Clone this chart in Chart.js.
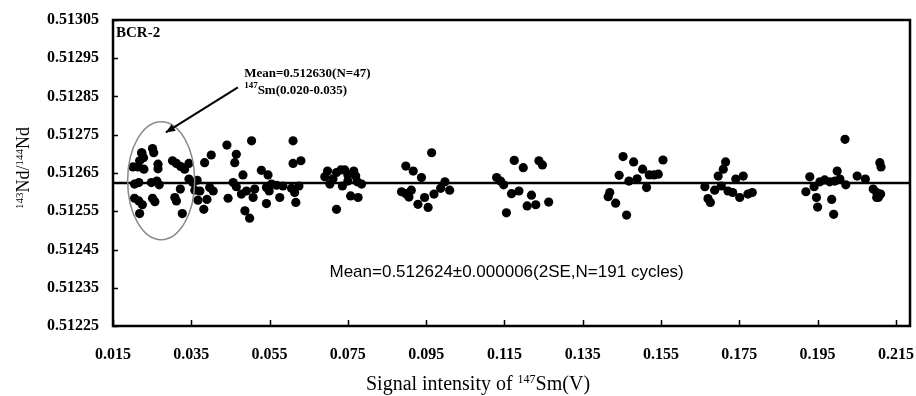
<!DOCTYPE html>
<html>
<head>
<meta charset="utf-8">
<script src="https://cdn.jsdelivr.net/npm/chart.js@4.4.1/dist/chart.umd.min.js"></script>
<style>
html,body{margin:0;padding:0;background:#fff;}
canvas{display:block;}
</style>
</head>
<body>
<canvas id="c" width="916" height="396"></canvas>
<script>
// ---- Data ----
const sampleName = "BCR-2";
const meanValue = 0.512624;
const xTicks = [0.015,0.035,0.055,0.075,0.095,0.115,0.135,0.155,0.175,0.195,0.215];
const xTickLabels = ["0.015","0.035","0.055","0.075","0.095","0.115","0.135","0.155","0.175","0.195","0.215"];
const yTicks = [0.51225,0.51235,0.51245,0.51255,0.51265,0.51275,0.51285,0.51295,0.51305];
const yTickLabels = ["0.51225","0.51235","0.51245","0.51255","0.51265","0.51275","0.51285","0.51295","0.51305"];

const smSignal = [
0.0223,0.0224,0.0228,0.0251,0.0254,0.0218,0.0201,0.0214,0.0229,0.0265,0.0265,0.0302,0.0312,0.0323,0.0333,0.0344,
0.0205,0.0216,0.0248,0.0262,0.0268,0.0205,0.0216,0.0225,0.0251,0.0257,0.0218,0.0308,0.0312,0.0322,0.0327,
0.0344,0.0354,0.0365,0.0359,0.0372,0.0367,0.0382,0.0390,0.0397,0.0406,0.0384,0.0401,0.0441,0.0465,0.0461,0.0444,0.0457,
0.0504,0.0482,0.0465,0.0478,0.0491,0.0512,0.0508,0.0487,0.0499,0.0529,0.0546,0.0542,0.0549,0.0555,0.0568,0.0542,0.0576,0.0584,
0.0610,0.0610,0.0630,0.0606,0.0614,0.0625,0.0617,
0.0698,0.0691,0.0704,0.0712,0.0721,0.0732,0.0742,0.0750,0.0750,0.0765,0.0770,0.0774,0.0785,0.0736,0.0757,0.0776,0.0721,
0.0898,0.0917,0.0938,0.0964,0.0887,0.0898,0.0912,0.0906,0.0929,0.0946,0.0955,0.0970,0.0987,0.0998,0.1010,
0.1130,0.1140,0.1148,0.1175,0.1198,0.1168,0.1187,0.1155,0.1238,0.1247,0.1219,0.1208,0.1230,0.1263,
0.1453,0.1480,0.1503,0.1443,0.1468,0.1489,0.1520,0.1532,0.1543,0.1555,0.1513,0.1419,0.1415,0.1434,0.1462,
0.1662,0.1670,0.1676,0.1687,0.1696,0.1704,0.1709,0.1715,0.1721,0.1741,0.1760,0.1733,0.1751,0.1772,0.1783,
0.1930,0.1920,0.1941,0.1947,0.1950,0.1956,0.1968,0.1981,0.1994,0.2000,0.2007,0.1986,0.1991,0.2020,0.2022,0.2051,0.2072,
0.2109,0.2112,0.2092,0.2101,0.2105,0.2111,0.2101
];
const ndRatio = [
0.512703,0.512702,0.512690,0.512714,0.512703,0.512682,0.512666,0.512666,0.512660,0.512673,0.512661,0.512682,0.512675,0.512667,0.512660,0.512675,
0.512621,0.512625,0.512625,0.512629,0.512619,0.512584,0.512577,0.512567,0.512584,0.512575,0.512544,0.512586,0.512577,0.512608,0.512544,
0.512634,0.512625,0.512631,0.512605,0.512603,0.512579,0.512555,0.512581,0.512612,0.512603,0.512677,0.512697,0.512723,0.512699,0.512677,0.512584,0.512625,
0.512734,0.512645,0.512614,0.512595,0.512603,0.512608,0.512586,0.512551,0.512532,0.512657,0.512645,0.512612,0.512603,0.512621,0.512618,0.512570,0.512586,0.512616,
0.512734,0.512675,0.512682,0.512610,0.512599,0.512616,0.512573,
0.512655,0.512640,0.512621,0.512635,0.512651,0.512658,0.512658,0.512645,0.512629,0.512655,0.512642,0.512627,0.512621,0.512616,0.512590,0.512586,0.512555,
0.512668,0.512655,0.512638,0.512703,0.512601,0.512596,0.512605,0.512587,0.512568,0.512586,0.512560,0.512595,0.512610,0.512627,0.512605,
0.512638,0.512629,0.512619,0.512683,0.512664,0.512596,0.512603,0.512546,0.512682,0.512671,0.512592,0.512564,0.512567,0.512574,
0.512693,0.512679,0.512660,0.512644,0.512629,0.512635,0.512645,0.512645,0.512647,0.512684,0.512612,0.512599,0.512588,0.512571,0.512540,
0.512614,0.512583,0.512573,0.512605,0.512642,0.512616,0.512660,0.512679,0.512603,0.512634,0.512642,0.512599,0.512586,0.512595,0.512599,
0.512640,0.512601,0.512614,0.512586,0.512561,0.512627,0.512632,0.512627,0.512629,0.512655,0.512634,0.512581,0.512542,0.512738,0.512619,0.512642,0.512634,
0.512677,0.512666,0.512608,0.512599,0.512586,0.512595,0.512586
];

// ---- Build library data ----
const points = smSignal.map((x, i) => ({ x: x, y: ndRatio[i] }));
const xMin = 0.015, xMax = 0.2186;
const yMin = 0.51225, yMax = 0.51305;

function drawRich(ctx, segs, x, y, baseFont, supFont, align, supShift) {
  let total = 0;
  segs.forEach(s => { ctx.font = s.sup ? supFont : baseFont; total += ctx.measureText(s.t).width; });
  let cx = align === 'center' ? x - total / 2 : x;
  ctx.textAlign = 'left';
  ctx.textBaseline = 'alphabetic';
  segs.forEach(s => {
    ctx.font = s.sup ? supFont : baseFont;
    ctx.fillText(s.t, cx, s.sup ? y - supShift : y);
    cx += ctx.measureText(s.t).width;
  });
}

const decor = {
  id: 'decor',
  afterDraw(chart) {
    const ctx = chart.ctx;
    const a = chart.chartArea;
    const xs = chart.scales.x, ys = chart.scales.y;
    ctx.save();
    ctx.fillStyle = '#000';
    ctx.strokeStyle = '#000';
    // frame
    ctx.lineWidth = 2.5;
    ctx.strokeRect(a.left, a.top, a.right - a.left, a.bottom - a.top);
    // inward tick marks
    ctx.lineWidth = 1.5;
    ctx.beginPath();
    yTicks.forEach(v => {
      const py = Math.round(ys.getPixelForValue(v)) + 0.5;
      ctx.moveTo(a.left, py); ctx.lineTo(a.left + 5, py);
    });
    xTicks.forEach(v => {
      const px = Math.round(xs.getPixelForValue(v)) + 0.5;
      ctx.moveTo(px, a.bottom); ctx.lineTo(px, a.bottom - 6);
    });
    ctx.stroke();

    // sample name
    ctx.font = 'bold 15px "Liberation Serif"';
    ctx.textAlign = 'left';
    ctx.textBaseline = 'middle';
    ctx.fillText(sampleName, a.left + 3, a.top + 13);

    // ellipse around the first group
    const ecx = xs.getPixelForValue(0.0273), ecy = ys.getPixelForValue(0.51263);
    ctx.strokeStyle = '#8a8a8a';
    ctx.lineWidth = 1.5;
    ctx.beginPath();
    ctx.ellipse(ecx, ecy, 33.5, 59, 0, 0, Math.PI * 2);
    ctx.stroke();

    // arrow
    const x1 = xs.getPixelForValue(0.0469), y1 = ys.getPixelForValue(0.512874);
    const x2 = xs.getPixelForValue(0.0285), y2 = ys.getPixelForValue(0.512756);
    ctx.strokeStyle = '#000';
    ctx.lineWidth = 2;
    ctx.beginPath(); ctx.moveTo(x1, y1); ctx.lineTo(x2, y2); ctx.stroke();
    const ang = Math.atan2(y2 - y1, x2 - x1);
    ctx.beginPath();
    ctx.moveTo(x2, y2);
    ctx.lineTo(x2 - 10 * Math.cos(ang - 0.4), y2 - 10 * Math.sin(ang - 0.4));
    ctx.lineTo(x2 - 10 * Math.cos(ang + 0.4), y2 - 10 * Math.sin(ang + 0.4));
    ctx.closePath(); ctx.fill();

    // subgroup annotation
    const tx = xs.getPixelForValue(0.0485);
    ctx.font = 'bold 13px "Liberation Serif"';
    ctx.textBaseline = 'alphabetic';
    ctx.fillText('Mean=0.512630(N=47)', tx, ys.getPixelForValue(0.512901));
    drawRich(ctx, [{t:'147', sup:true}, {t:'Sm(0.020-0.035)'}], tx, ys.getPixelForValue(0.512857),
      'bold 13px "Liberation Serif"', 'bold 9px "Liberation Serif"', 'left', 6);

    // overall mean annotation
    ctx.font = '17px "Liberation Sans"';
    ctx.textAlign = 'left';
    ctx.textBaseline = 'middle';
    ctx.fillText('Mean=0.512624\u00B10.000006(2SE,N=191 cycles)', xs.getPixelForValue(0.0703), ys.getPixelForValue(0.512391));

    // axis titles
    ctx.fillStyle = '#000';
    drawRich(ctx, [{t:'Signal intensity of '}, {t:'147', sup:true}, {t:'Sm(V)'}], 478, 390,
      '20px "Liberation Serif"', '12px "Liberation Serif"', 'center', 7);
    ctx.save();
    ctx.translate(29, 168);
    ctx.rotate(-Math.PI / 2);
    drawRich(ctx, [{t:'143', sup:true}, {t:'Nd/'}, {t:'144', sup:true}, {t:'Nd'}], 0, 0,
      '18px "Liberation Serif"', '11px "Liberation Serif"', 'center', 6);
    ctx.restore();
    ctx.restore();
  }
};

new Chart(document.getElementById('c'), {
  type: 'scatter',
  data: {
    datasets: [
      {
        type: 'line',
        data: [{ x: xMin, y: meanValue }, { x: xMax, y: meanValue }],
        borderColor: '#000',
        borderWidth: 2.5,
        pointRadius: 0,
        fill: false
      },
      {
        data: points,
        backgroundColor: '#000',
        borderColor: '#000',
        borderWidth: 0,
        pointRadius: 4.6,
        pointHoverRadius: 4.6
      }
    ]
  },
  options: {
    responsive: false,
    animation: false,
    events: [],
    layout: { padding: { top: 20, right: 6, left: 0, bottom: 0 } },
    plugins: { legend: { display: false }, tooltip: { enabled: false } },
    scales: {
      x: {
        type: 'linear',
        min: xMin, max: xMax,
        afterBuildTicks(s) { s.ticks = xTicks.map(v => ({ value: v })); },
        afterFit(s) { s.height = 70; s.paddingLeft = 0; s.paddingRight = 0; },
        grid: { display: false, drawTicks: false },
        border: { display: false },
        ticks: {
          autoSkip: false, maxRotation: 0, padding: 19, color: '#000',
          font: { family: 'Liberation Serif', size: 16, weight: 'bold' },
          callback(v, i) { return xTickLabels[i]; }
        }
      },
      y: {
        type: 'linear',
        min: yMin, max: yMax,
        afterBuildTicks(s) { s.ticks = yTicks.map(v => ({ value: v })); },
        afterFit(s) { s.width = 113; s.paddingTop = 0; s.paddingBottom = 0; },
        grid: { display: false, drawTicks: false },
        border: { display: false },
        ticks: {
          autoSkip: false, padding: 14, color: '#000',
          font: { family: 'Liberation Serif', size: 16, weight: 'bold' },
          callback(v, i) { return yTickLabels[i]; }
        }
      }
    }
  },
  plugins: [decor]
});
</script>
</body>
</html>
